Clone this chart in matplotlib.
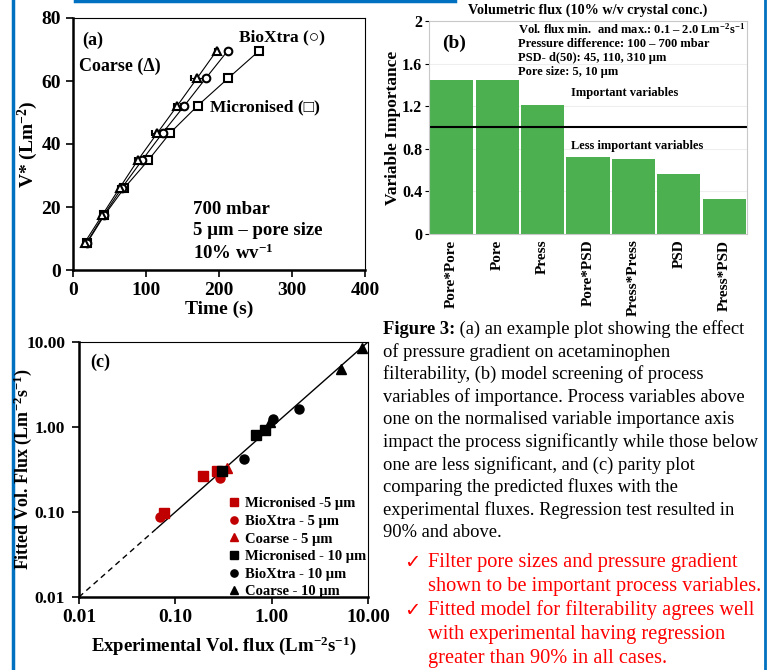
import matplotlib
matplotlib.use('Agg')
import matplotlib.pyplot as plt
import numpy as np
from matplotlib.lines import Line2D

plt.rcParams['font.family'] = ['Liberation Serif', 'DejaVu Sans']
plt.rcParams['font.weight'] = 'bold'
plt.rcParams['axes.labelweight'] = 'bold'
plt.rcParams['mathtext.fontset'] = 'custom'
plt.rcParams['mathtext.rm'] = 'Liberation Serif:bold'
plt.rcParams['mathtext.it'] = 'Liberation Serif:bold:italic'
plt.rcParams['mathtext.bf'] = 'Liberation Serif:bold'
plt.rcParams['mathtext.default'] = 'rm'

# ---------------- Panel (a) data ----------------
volume = [8.7, 17.4, 26.1, 34.8, 43.5, 52.2, 60.9, 69.6]
t_coarse = [16, 40, 64, 88.6, 115.6, 143, 170, 196.8]
t_bioxtra = [18.6, 42, 67, 94.5, 122.7, 152.7, 182, 212]
t_micronised = [19.5, 43, 70.5, 103, 133, 171, 212.7, 255]
err_coarse = [1, 1, 2, 3, 8, 5, 9, 2]
err_bioxtra = [1, 1, 2, 2, 3, 3, 3, 2]
err_micronised = [1, 1, 2, 2, 3, 3, 3, 2]

# ---------------- Panel (b) data ----------------
variables = ['Pore*Pore', 'Pore', 'Press', 'Pore*PSD', 'Press*Press', 'PSD', 'Press*PSD']
importance = [1.445, 1.445, 1.21, 0.725, 0.70, 0.565, 0.33]
threshold = 1.0

# ---------------- Panel (c) data ----------------
mic5_x = [0.077, 0.193, 0.269]
mic5_y = [0.097, 0.266, 0.306]
bio5_x = [0.070, 0.291]
bio5_y = [0.087, 0.253]
coa5_x = [0.347]
coa5_y = [0.332]
mic10_x = [0.308, 0.689, 0.847]
mic10_y = [0.306, 0.81, 0.92]
bio10_x = [0.52, 1.04, 1.94]
bio10_y = [0.417, 1.24, 1.61]
coa10_x = [0.96, 5.21, 8.61]
coa10_y = [1.15, 4.77, 8.43]
parity_dashed = [0.01, 0.064]
parity_solid = [0.064, 10.0]

W, H = 769, 670
fig = plt.figure(figsize=(W / 100, H / 100), dpi=100)

def box(l, t, r, b):
    return [l / W, 1 - b / H, (r - l) / W, (b - t) / H]

# ================= Decorative blue frame lines (drawn first, behind text) =================
blue = '#0070C0'
fig.add_artist(Line2D([12.5 / W, 12.5 / W], [0, 1], color=blue, lw=2.5,
                      transform=fig.transFigure, zorder=0))
fig.add_artist(Line2D([765 / W, 765 / W], [0, 1], color=blue, lw=2.0,
                      transform=fig.transFigure, zorder=0))
fig.add_artist(Line2D([75 / W, 455 / W], [1 - 1 / H, 1 - 1 / H], color=blue, lw=2.5,
                      transform=fig.transFigure, zorder=0))

# ================= Panel (a) =================
ax1 = fig.add_axes(box(73, 18, 365, 270))
mk = dict(color='black', lw=0.8, mfc='white', mec='black', mew=1.5, ms=5.5,
          ecolor='black', elinewidth=0.8, capsize=2)
ax1.errorbar(t_micronised, volume, xerr=err_micronised, marker='s', **mk)
ax1.errorbar(t_bioxtra, volume, xerr=err_bioxtra, marker='o', **mk)
ax1.errorbar(t_coarse, volume, xerr=err_coarse, marker='^', **mk)
ax1.set_xlim(0, 400)
ax1.set_ylim(0, 80)
ax1.set_xticks([0, 100, 200, 300, 400])
ax1.set_yticks([0, 20, 40, 60, 80])
ax1.tick_params(direction='out', length=5, width=1.2, labelsize=14)
for s in ['left', 'bottom']:
    ax1.spines[s].set_linewidth(1.8)
for s in ['top', 'right']:
    ax1.spines[s].set_linewidth(0.8)
ax1.set_xlabel('Time (s)', fontsize=14, labelpad=1)
ax1.set_ylabel('V* (Lm$^{-2}$)', fontsize=14)
ax1.yaxis.set_label_coords(-0.112, 0.5)
ax1.text(0.03, 0.91, '(a)', transform=ax1.transAxes, fontsize=13, va='center')
ax1.text(0.02, 0.81, 'Coarse (Δ)', transform=ax1.transAxes, fontsize=13, va='center')
ax1.text(0.57, 0.925, 'BioXtra (○)', transform=ax1.transAxes, fontsize=12.5, va='center')
ax1.text(0.47, 0.645, 'Micronised (□)', transform=ax1.transAxes, fontsize=12.5, va='center')
ax1.text(0.41, 0.15, '700 mbar\n5 µm – pore size\n10% wv$^{-1}$', transform=ax1.transAxes,
         fontsize=13.5, va='center', linespacing=1.3)

# ================= Panel (b) =================
ax2 = fig.add_axes(box(429, 21, 747, 234))
ax2.set_axisbelow(True)
ax2.grid(axis='y', color='#eeeeee', lw=0.8)
ax2.bar(range(len(variables)), importance, width=0.95, color='#4CAF50')
ax2.axhline(threshold, color='black', lw=1.5)
ax2.set_xlim(-0.5, 6.5)
ax2.set_ylim(0, 2)
ax2.set_yticks([0, 0.4, 0.8, 1.2, 1.6, 2])
ax2.set_yticklabels(['0', '0.4', '0.8', '1.2', '1.6', '2'])
ax2.set_xticks(range(len(variables)))
ax2.set_xticklabels(variables, rotation=90, fontsize=11)
ax2.tick_params(axis='x', length=0, pad=4)
ax2.tick_params(axis='y', length=3, labelsize=11.5, pad=2)
for s in ax2.spines.values():
    s.set_color('#c8c8c8')
    s.set_linewidth(0.8)
ax2.set_ylabel('Variable Importance', fontsize=12.5)
ax2.yaxis.set_label_coords(-0.088, 0.5)
fig.text(588 / W, 1 - 10 / H, 'Volumetric flux (10% w/v crystal conc.)', fontsize=10.2,
         ha='center', va='center')
ax2.text(0.04, 0.897, '(b)', transform=ax2.transAxes, fontsize=14, va='center')
ax2.text(0.28, 0.866,
         'Vol. flux min.  and max.: 0.1 – 2.0 Lm$^{-2}$s$^{-1}$\n'
         'Pressure difference: 100 – 700 mbar\n'
         'PSD- d(50): 45, 110, 310 µm\n'
         'Pore size: 5, 10 µm',
         transform=ax2.transAxes, fontsize=9, va='center', linespacing=1.2)
ax2.text(0.445, 1.32, 'Important variables', transform=ax2.get_yaxis_transform(),
         fontsize=9, va='center')
ax2.text(0.445, 0.83, 'Less important variables', transform=ax2.get_yaxis_transform(),
         fontsize=9, va='center')

# ================= Panel (c) =================
ax3 = fig.add_axes(box(79, 342, 368, 597))
ax3.set_xscale('log')
ax3.set_yscale('log')
ax3.plot(parity_dashed, parity_dashed, color='black', lw=1.0, ls=(0, (4, 3)))
ax3.plot(parity_solid, parity_solid, color='black', lw=1.0)
red = '#C00000'
ax3.plot(mic5_x, mic5_y, 's', color=red, ms=7, ls='none', label='Micronised -5 µm')
ax3.plot(bio5_x, bio5_y, 'o', color=red, ms=6.5, ls='none', label='BioXtra - 5 µm')
ax3.plot(coa5_x, coa5_y, '^', color=red, ms=7, ls='none', label='Coarse - 5 µm')
ax3.plot(mic10_x, mic10_y, 's', color='black', ms=7, ls='none', label='Micronised - 10 µm')
ax3.plot(bio10_x, bio10_y, 'o', color='black', ms=6.5, ls='none', label='BioXtra - 10 µm')
ax3.plot(coa10_x, coa10_y, '^', color='black', ms=7, ls='none', label='Coarse - 10 µm')
ax3.set_xlim(0.01, 10)
ax3.set_ylim(0.01, 10)
ticks = [0.01, 0.1, 1, 10]
tlabels = ['0.01', '0.10', '1.00', '10.00']
ax3.set_xticks(ticks)
ax3.set_xticklabels(tlabels)
ax3.set_yticks(ticks)
ax3.set_yticklabels(tlabels)
ax3.minorticks_off()
ax3.tick_params(direction='out', length=5, width=1.2, labelsize=14)
ax3.tick_params(axis='y', labelsize=12.5, pad=5)
for s in ['left', 'bottom']:
    ax3.spines[s].set_linewidth(1.8)
for s in ['top', 'right']:
    ax3.spines[s].set_linewidth(0.8)
ax3.set_xlabel('Experimental Vol. flux (Lm$^{-2}$s$^{-1}$)', fontsize=13.5, labelpad=6)
ax3.set_ylabel('Fitted Vol. Flux (Lm$^{-2}$s$^{-1}$)', fontsize=13)
ax3.yaxis.set_label_coords(-0.155, 0.5)
ax3.text(0.04, 0.92, '(c)', transform=ax3.transAxes, fontsize=13, va='center')
ax3.legend(loc='lower left', bbox_to_anchor=(0.515, -0.005), frameon=False,
           fontsize=10.5, handlelength=0.8, handletextpad=0.35, borderpad=0,
           borderaxespad=0, labelspacing=0.3, markerscale=0.8)

# ================= Caption =================
ov = fig.add_axes([0, 0, 1, 1], zorder=-1)
ov.axis('off')
ov.set_xlim(0, 1)
ov.set_ylim(0, 1)
cap_x = 383 / W
cap_fs = 13.3
cap_lines = [
    'of pressure gradient on acetaminophen',
    'filterability, (b) model screening of process',
    'variables of importance. Process variables above',
    'one on the normalised variable importance axis',
    'impact the process significantly while those below',
    'one are less significant, and (c) parity plot',
    'comparing the predicted fluxes with the',
    'experimental fluxes. Regression test resulted in',
    '90% and above.',
]
y0 = 329
dy = 22.6
t1 = ov.text(cap_x, 1 - y0 / H, 'Figure 3:', fontsize=cap_fs, weight='bold', va='center')
ov.annotate(' (a) an example plot showing the effect', xy=(1, 0), xycoords=t1,
            fontsize=cap_fs, weight='normal', va='bottom', ha='left')
for i, line in enumerate(cap_lines):
    ov.text(cap_x, 1 - (y0 + dy * (i + 1)) / H, line, fontsize=cap_fs,
            weight='normal', va='center')

bullets = [('✓', 'Filter pore sizes and pressure gradient'),
           ('', 'shown to be important process variables.'),
           ('✓', 'Fitted model for filterability agrees well'),
           ('', 'with experimental having regression'),
           ('', 'greater than 90% in all cases.')]
by = [562, 586, 610, 635, 658]
for (mark, line), yy in zip(bullets, by):
    if mark:
        ov.text(404 / W, 1 - yy / H, mark, fontsize=14, color='red', weight='bold',
                va='center', family=['DejaVu Sans'])
    ov.text(428 / W, 1 - yy / H, line, fontsize=14.7, color='red', weight='normal',
            va='center')

fig.savefig('out.png', dpi=100)
